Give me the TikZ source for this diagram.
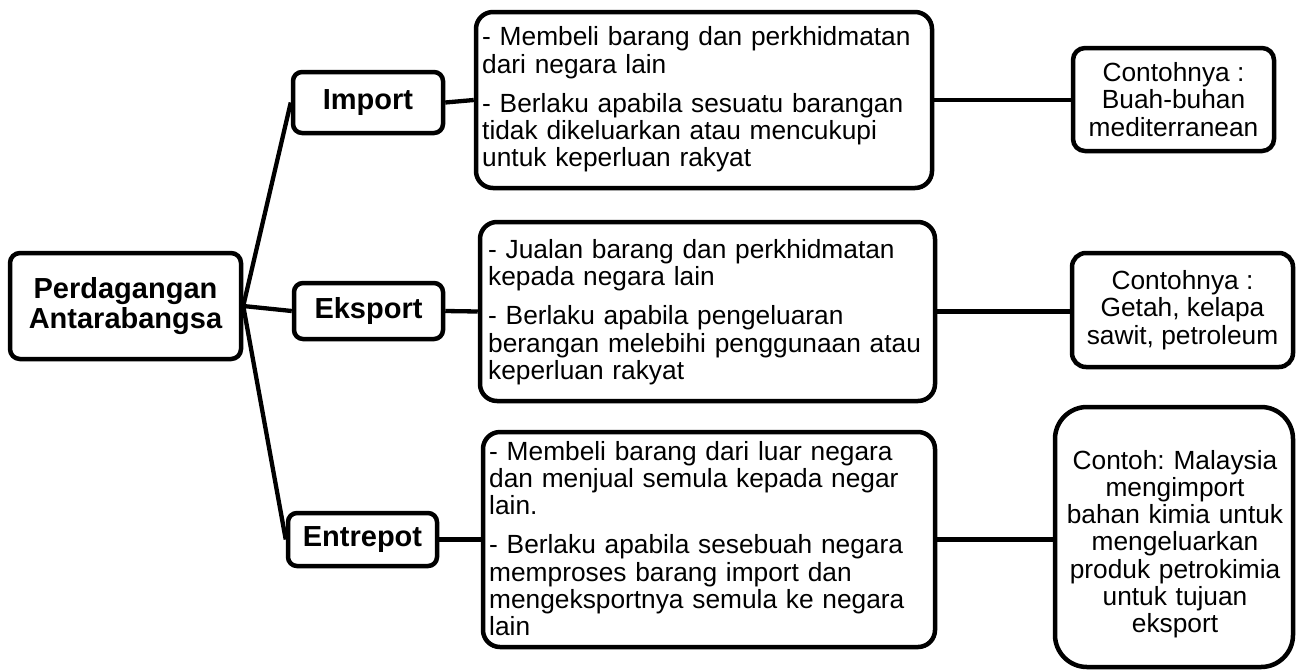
\documentclass[tikz,border=0pt]{standalone}
\usepackage{fontspec}
\setmainfont{Liberation Sans}
\frenchspacing
\usetikzlibrary{fit}
\tikzset{
  box/.style={draw, line width=4.5pt, fill=white, inner sep=0pt, rounded corners=#1},
  box/.default=12pt,
  conn/.style={line width=4.3pt},
  lbl/.style={font=\fontsize{29}{30}\selectfont\bfseries, align=center},
  desc/.style={font=\fontsize{26.3}{27.3}\selectfont\frenchspacing, align=left, text width=450pt, anchor=base west, inner sep=0pt},
  extxt/.style={font=\fontsize{26.3}{27.3}\selectfont\frenchspacing, align=center},
  ex/.style={font=\fontsize{26.3}{27.3}\selectfont\frenchspacing, align=center, text width=240pt, anchor=base, inner sep=0pt},
  maintxt/.style={font=\fontsize{29}{29.5}\selectfont\bfseries, align=center},
}
\begin{document}
\begin{tikzpicture}[x=1pt,y=-1pt]
\useasboundingbox (0,0) rectangle (1300,670);

% boxes
\node[box=10pt, maintxt, minimum width=231pt, minimum height=106pt] (main) at (125.5,306) {Perdagangan\\Antarabangsa};
\node[box=9pt, lbl, minimum width=150pt, minimum height=61pt] (imp) at (368,102.5) {Import};
\node[box=9pt, lbl, minimum width=149pt, minimum height=56pt] (eks) at (368.5,311) {Eksport};
\node[box=9pt, lbl, minimum width=149pt, minimum height=53pt] (ent) at (362.5,539.5) {Entrepot};
\node[box=17pt, fit={(476,12)(932,188)}] (d1) {};
\node[box=17pt, fit={(480,222)(935,401)}] (d2) {};
\node[box=17pt, fit={(483,432)(935,647)}] (d3) {};
\node[box=12pt, extxt, minimum width=201pt, minimum height=103pt] (e1) at (1173.5,99.5) {Contohnya :\\Buah-buhan\\mediterranean};
\node[box=14pt, extxt, minimum width=221pt, minimum height=114pt] (e2) at (1182.5,310) {Contohnya :\\Getah, kelapa\\sawit, petroleum};
\node[box=32pt, fit={(1055,407)(1293,667)}] (e3) {};

% texts
\node[desc] (d1T) at (482,45.7) {- Membeli barang dan perkhidmatan\\dari negara lain\\[12pt]- Berlaku apabila sesuatu barangan\\tidak dikeluarkan atau mencukupi\\untuk keperluan rakyat};
\node[desc] (d2T) at (488,258.3) {- Jualan barang dan perkhidmatan\\kepada negara lain\\[12pt]- Berlaku apabila pengeluaran\\berangan melebihi penggunaan atau\\keperluan rakyat};
\node[desc] (d3T) at (489,460) {- Membeli barang dari luar negara\\dan menjual semula kepada negar\\lain.\\[12pt]- Berlaku apabila sesebuah negara\\memproses barang import dan\\mengeksportnya semula ke negara\\lain};
\node[ex] (e3T) at (1175,469) {Contoh: Malaysia\\mengimport\\bahan kimia untuk\\mengeluarkan\\produk petrokimia\\untuk tujuan\\eksport};

% connectors
\draw[conn] (main.east) -- (imp.west);
\draw[conn] (main.east) -- (eks.west);
\draw[conn] (main.east) -- (ent.west);
\draw[conn] (imp.east) -- (d1.west);
\draw[conn] (eks.east) -- (d2.west);
\draw[conn] (ent.east) -- (d3.west);
\draw[conn] (d1.east) -- (d1.east -| e1.west);
\draw[conn] (d2.east) -- (d2.east -| e2.west);
\draw[conn] (d3.east) -- (d3.east -| e3.west);
\end{tikzpicture}
\end{document}
